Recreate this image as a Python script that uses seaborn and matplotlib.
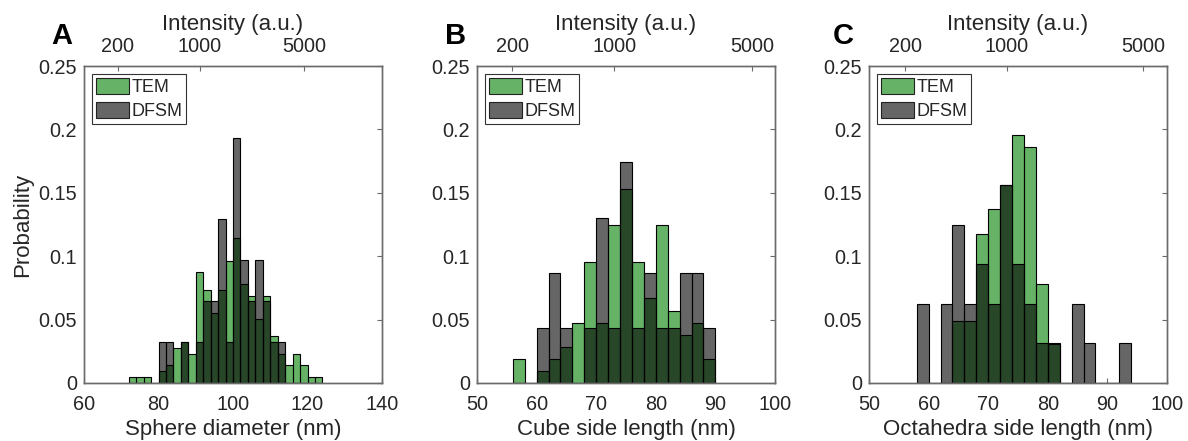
import numpy as np
import pandas as pd
import matplotlib
matplotlib.use("Agg")
import matplotlib.pyplot as plt
import seaborn as sns
from matplotlib.patches import Patch
from matplotlib.ticker import FormatStrFormatter

sns.set_theme(style="white")
plt.rcParams['font.family'] = ['Liberation Sans', 'DejaVu Sans']

# ---------------- data ----------------
BIN_WIDTH = 2  # nm

# A: spheres (bins start at 72 nm)
sphere_start = 72
sphere_tem = [0.0047, 0.0047, 0.0047, 0.0, 0.0092, 0.0139, 0.0276, 0.0323, 0.0231,
              0.0873, 0.0731, 0.0552, 0.0731, 0.0960, 0.1144, 0.0780, 0.0689,
              0.0505, 0.0689, 0.0368, 0.0231, 0.0139, 0.0231, 0.0139, 0.0047, 0.0047]
sphere_dfsm = [0.0, 0.0, 0.0, 0.0, 0.0323, 0.0323, 0.0, 0.0323, 0.0,
               0.0323, 0.0645, 0.0645, 0.1290, 0.0323, 0.1935, 0.0968, 0.0645,
               0.0968, 0.0645, 0.0323, 0.0323, 0.0, 0.0, 0.0, 0.0, 0.0]

# B: cubes (bins start at 56 nm)
cube_start = 56
cube_tem = [0.0190, 0.0, 0.0095, 0.0190, 0.0286, 0.0476, 0.0955, 0.0476, 0.1245,
            0.1530, 0.0955, 0.0670, 0.1245, 0.0571, 0.0381, 0.0476, 0.0190]
cube_dfsm = [0.0, 0.0, 0.0435, 0.0870, 0.0435, 0.0, 0.0435, 0.1304, 0.0435,
             0.1739, 0.0435, 0.0870, 0.0435, 0.0435, 0.0870, 0.0870, 0.0435]

# C: octahedra (bins start at 58 nm)
octa_start = 58
octa_tem = [0.0, 0.0, 0.0, 0.0486, 0.0486, 0.1172, 0.1370, 0.1563, 0.1958,
            0.1861, 0.0781, 0.0308, 0.0, 0.0, 0.0, 0.0, 0.0, 0.0]
octa_dfsm = [0.0625, 0.0, 0.0625, 0.1250, 0.0625, 0.0938, 0.0625, 0.1563, 0.0938,
             0.0625, 0.0313, 0.0313, 0.0, 0.0625, 0.0313, 0.0, 0.0, 0.0313]

intensity_labels = ['200', '1000', '5000']
# size (nm) that corresponds to each intensity tick, per panel
sphere_int_pos = [69.0, 91.1, 119.1]
cube_int_pos = [55.9, 73.0, 96.1]
octa_int_pos = [56.1, 73.1, 96.0]

series_names = ['TEM', 'DFSM']

panels = [
    dict(letter='A', start=sphere_start, tem=sphere_tem, dfsm=sphere_dfsm,
         xlim=(60, 140), xticks=[60, 80, 100, 120, 140], xlabel='Sphere diameter (nm)',
         top=sphere_int_pos, left=84),
    dict(letter='B', start=cube_start, tem=cube_tem, dfsm=cube_dfsm,
         xlim=(50, 100), xticks=[50, 60, 70, 80, 90, 100], xlabel='Cube side length (nm)',
         top=cube_int_pos, left=477),
    dict(letter='C', start=octa_start, tem=octa_tem, dfsm=octa_dfsm,
         xlim=(50, 100), xticks=[50, 60, 70, 80, 90, 100], xlabel='Octahedra side length (nm)',
         top=octa_int_pos, left=869),
]

# ---------------- style ----------------
W, H = 1188, 441
GREEN = (0.0, 0.5, 0.0)
BLACK = (0.0, 0.0, 0.0)
FACE_ALPHA = 0.6
TEXT = '#262626'
AXC = '#6b6b6b'
TICK_FS = 14.3
LABEL_FS = 16

fig = plt.figure(figsize=(W / 100, H / 100), dpi=100)

ax_bottom = (H - 383) / H
ax_height = 317 / H
ax_width = 298 / W


def draw_hist(ax, start, values, color):
    n = len(values)
    df = pd.DataFrame({
        'size': start + BIN_WIDTH * (np.arange(n) + 0.5),
        'prob': np.asarray(values, dtype=float),
    })
    edges = list(start + BIN_WIDTH * np.arange(n + 1))
    before = len(ax.patches)
    sns.histplot(data=df, x='size', weights='prob', bins=edges, stat='count',
                 color=color, edgecolor='black', linewidth=0.8, ax=ax)
    for p in ax.patches[before:]:
        p.set_alpha(None)
        p.set_facecolor((*color, FACE_ALPHA))
        p.set_edgecolor((0, 0, 0, 1))
        p.set_linewidth(0.8)


for i, pnl in enumerate(panels):
    ax = fig.add_axes([pnl['left'] / W, ax_bottom, ax_width, ax_height])
    draw_hist(ax, pnl['start'], pnl['tem'], GREEN)
    draw_hist(ax, pnl['start'], pnl['dfsm'], BLACK)

    ax.set_xlim(*pnl['xlim'])
    ax.set_ylim(0, 0.25)
    ax.set_xticks(pnl['xticks'])
    ax.set_yticks(np.arange(0, 0.2501, 0.05))
    ax.yaxis.set_major_formatter(FormatStrFormatter('%g'))
    ax.set_xlabel(pnl['xlabel'], fontsize=LABEL_FS, color=TEXT, labelpad=3)
    if i == 0:
        ax.set_ylabel('Probability', fontsize=LABEL_FS, color=TEXT, labelpad=4)
    else:
        ax.set_ylabel('')
    ax.tick_params(axis='both', direction='in', length=3.5, width=0.8, color=AXC,
                   labelsize=TICK_FS, labelcolor=TEXT, top=False, right=True)
    ax.tick_params(axis='x', pad=9)
    ax.tick_params(axis='y', pad=5)
    for s in ax.spines.values():
        s.set_color(AXC)
        s.set_linewidth(1.0)

    handles = [Patch(facecolor=(*GREEN, FACE_ALPHA), edgecolor='#222222', linewidth=0.8),
               Patch(facecolor=(*BLACK, FACE_ALPHA), edgecolor='#222222', linewidth=0.8)]
    leg = ax.legend(handles, series_names, loc='upper left', fontsize=13,
                    frameon=True, fancybox=False, framealpha=1, edgecolor='#333333',
                    borderaxespad=0.45, borderpad=0.2, handlelength=1.85,
                    handleheight=1.05, handletextpad=0.15, labelspacing=0.3)
    leg.get_frame().set_linewidth(0.8)
    for t in leg.get_texts():
        t.set_color(TEXT)

    ax2 = ax.twiny()
    ax2.set_xlim(*pnl['xlim'])
    ax2.set_xticks(pnl['top'])
    ax2.set_xticklabels(intensity_labels)
    ax2.set_xlabel('Intensity (a.u.)', fontsize=LABEL_FS, color=TEXT, labelpad=5)
    ax2.tick_params(axis='x', direction='in', length=3.5, width=0.8, color=AXC,
                    labelsize=TICK_FS, labelcolor=TEXT, pad=7)
    for s in ax2.spines.values():
        s.set_color(AXC)
        s.set_linewidth(1.0)

    letter_x = {'A': 62, 'B': 456, 'C': 843}[pnl['letter']]
    fig.text(letter_x / W, 1 - 36 / H, pnl['letter'], fontsize=21, fontweight='bold',
             ha='center', va='center', color='black')

fig.savefig('out.png', dpi=100)
